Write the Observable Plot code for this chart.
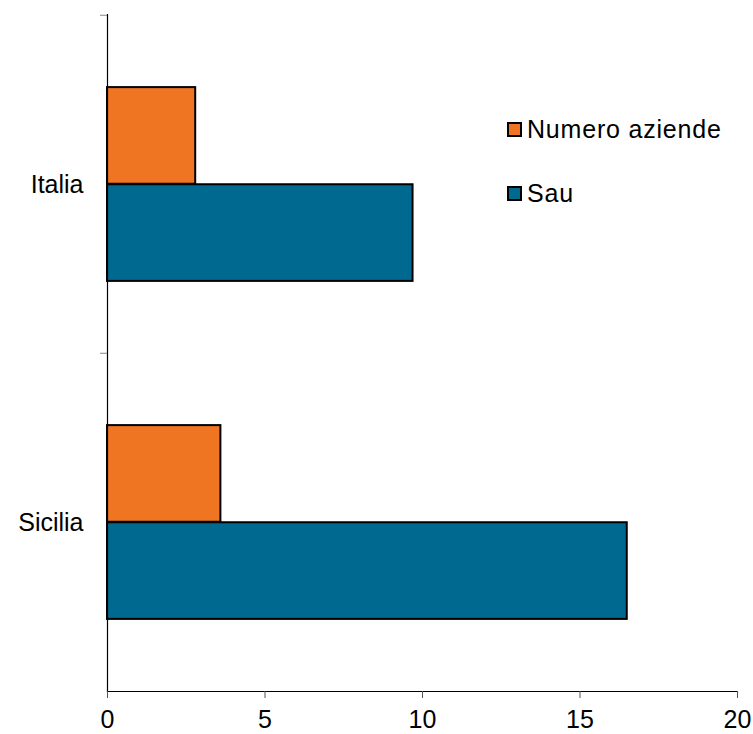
<!DOCTYPE html>
<html><head><meta charset="utf-8">
<script src="https://cdn.jsdelivr.net/npm/d3@7"></script>
<script src="https://cdn.jsdelivr.net/npm/@observablehq/plot@0.6"></script>
<style>
body{margin:0;background:#fff;font-family:"Liberation Sans",Arial,sans-serif}
#wrap{position:relative;width:753px;height:734px}
.leg{position:absolute;left:507px;display:flex;align-items:center;font-size:25px;color:#000;letter-spacing:0.8px;line-height:1}
.sw{width:11px;height:11px;border:2px solid #000;margin-right:5px}
</style></head><body><div id="wrap"></div>
<script>
const countries = ["Italia", "Sicilia"];
const seriesNames = ["Numero aziende", "Sau"];
const numeroAziende = [2.8, 3.6];
const sau = [9.7, 16.5];
const colors = ["#EF7522", "#00698F"];
const xTicks = [0, 5, 10, 15, 20];

const W = 753, H = 734, mt = 14, mb = 43, ml = 107, mr = 16;
const bw = (H - mt - mb) / countries.length;
const outer = bw * 0.213, inner = (bw - 2 * outer) / 2;

const rows = [];
countries.forEach((c, i) => {
  rows.push({country: c, series: seriesNames[0], value: numeroAziende[i]});
  rows.push({country: c, series: seriesNames[1], value: sau[i]});
});

const chart = Plot.plot({
  width: W, height: H,
  marginTop: mt, marginBottom: mb, marginLeft: ml, marginRight: mr,
  style: {fontFamily: '"Liberation Sans", Arial, sans-serif', fontSize: "25px", color: "#000", background: "#fff", overflow: "visible"},
  x: {domain: [0, 20], axis: null},
  y: {domain: countries, padding: 0, axis: null},
  color: {domain: seriesNames, range: colors},
  marks: [
    Plot.barX(rows.filter(d => d.series === seriesNames[0]), {
      x: "value", y: "country", fill: "series", stroke: "#000", strokeWidth: 2,
      insetTop: outer, insetBottom: outer + inner
    }),
    Plot.barX(rows.filter(d => d.series === seriesNames[1]), {
      x: "value", y: "country", fill: "series", stroke: "#000", strokeWidth: 2,
      insetTop: outer + inner, insetBottom: outer
    }),
    Plot.frame({anchor: "left", stroke: "#000", strokeWidth: 1.2}),
    Plot.frame({anchor: "bottom", stroke: "#000", strokeWidth: 1.2}),
    Plot.axisY({tickSize: 0, tickPadding: 24, fontSize: 25, label: null}),
    Plot.axisY({tickSize: 7, tickFormat: () => "", dy: -bw / 2, stroke: "#888", label: null}),
    Plot.axisX({ticks: xTicks, tickSize: 7, tickPadding: 12, fontSize: 25, stroke: "#555", label: null})
  ]
});

const wrap = document.getElementById("wrap");
wrap.appendChild(chart);
const legTops = [117, 181];
seriesNames.forEach((s, i) => {
  const d = document.createElement("div");
  d.className = "leg";
  d.style.top = legTops[i] + "px";
  const sw = document.createElement("div");
  sw.className = "sw";
  sw.style.background = colors[i];
  const t = document.createElement("span");
  t.textContent = s;
  d.appendChild(sw); d.appendChild(t);
  wrap.appendChild(d);
});
</script></body></html>
